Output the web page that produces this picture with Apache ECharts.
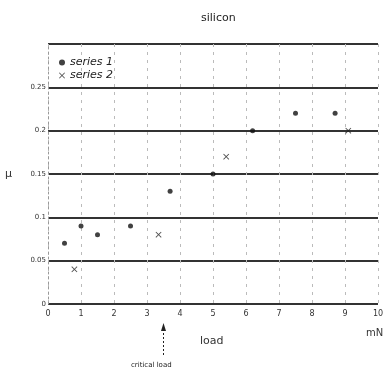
<!DOCTYPE html>
<html>
<head>
<meta charset="utf-8">
<script src="https://cdn.jsdelivr.net/npm/echarts@6/dist/echarts.min.js"></script>
<style>
  html, body { margin: 0; padding: 0; background: #fff; }
  #chart { width: 387px; height: 377px; }
</style>
</head>
<body>
<div id="chart"></div>
<script>
// load (mN) and friction coefficient
var series1Load = [0.5, 1.0, 1.5, 2.5, 3.7, 5.0, 6.2, 7.5, 8.7];
var series1Mu   = [0.07, 0.09, 0.08, 0.09, 0.13, 0.15, 0.20, 0.22, 0.22];
var series2Load = [0.8, 3.35, 5.4, 9.1];
var series2Mu   = [0.04, 0.08, 0.17, 0.20];
var yTicks = [0, 0.05, 0.1, 0.15, 0.2, 0.25];
var criticalLoad = 3.5;

function pairs(xs, ys) {
    var out = [];
    for (var i = 0; i < xs.length; i++) {
        out.push([xs[i], ys[i]]);
    }
    return out;
}

var crossPath = 'path://M0,1L1,0L5,4L9,0L10,1L6,5L10,9L9,10L5,6L1,10L0,9L4,5Z';
var font = 'DejaVu Sans';

var myChart = echarts.init(document.getElementById('chart'), null, { renderer: 'canvas' });

var textGraphics = [
    { type: 'text', left: 366, top: 328, style: { text: 'mN', fontFamily: font, fontSize: 10, fill: '#333' } },
    { type: 'text', left: 200, top: 336, style: { text: 'load', fontFamily: font, fontSize: 11, fill: '#333' } },
    { type: 'text', left: 131, top: 362, style: { text: 'critical load', fontFamily: font, fontSize: 7, fill: '#222' } }
];

var option = {
    backgroundColor: '#fff',
    animation: false,
    title: {
        text: 'silicon',
        left: 196,
        top: 8,
        textStyle: { fontFamily: font, fontSize: 11, fontWeight: 'normal', color: '#222' }
    },
    legend: {
        orient: 'vertical',
        left: 54,
        top: 52,
        itemGap: 2,
        itemWidth: 6,
        itemHeight: 6,
        textStyle: { fontFamily: font, fontSize: 11, color: '#222', fontStyle: 'italic' },
        data: [
            { name: 'series 1', icon: 'circle' },
            { name: 'series 2', icon: crossPath }
        ]
    },
    grid: { left: 48, right: 9, top: 44, bottom: 73 },
    xAxis: {
        type: 'value',
        min: 0,
        max: 10,
        interval: 1,
        axisLine: { show: false },
        axisTick: { show: false },
        axisLabel: { fontFamily: font, fontSize: 8, color: '#333', margin: 6 },
        splitLine: { show: true, lineStyle: { color: '#bbb', type: [3, 5], width: 1 } }
    },
    yAxis: {
        type: 'value',
        min: 0,
        max: 0.3,
        interval: 0.05,
        name: 'µ',
        nameLocation: 'middle',
        nameRotate: 0,
        nameGap: 36,
        nameTextStyle: { fontFamily: font, fontSize: 11, color: '#333' },
        axisLine: { show: true, lineStyle: { color: '#999', type: [2, 3], width: 1 } },
        axisTick: { show: false },
        axisLabel: {
            fontFamily: font, fontSize: 7, color: '#333', margin: 2,
            formatter: function (v) {
                for (var i = 0; i < yTicks.length; i++) {
                    if (Math.abs(yTicks[i] - v) < 1e-9) return String(yTicks[i]);
                }
                return '';
            }
        },
        splitLine: { show: true, lineStyle: { color: '#333', width: 2 } }
    },
    graphic: textGraphics,
    series: [
        {
            name: 'series 1',
            type: 'scatter',
            symbol: 'circle',
            symbolSize: 5,
            itemStyle: { color: '#111' },
            data: pairs(series1Load, series1Mu)
        },
        {
            name: 'series 2',
            type: 'scatter',
            symbol: crossPath,
            symbolSize: 6,
            itemStyle: { color: '#222' },
            data: pairs(series2Load, series2Mu)
        }
    ]
};

myChart.setOption(option);

// arrow under the axis pointing at the critical load
var px = myChart.convertToPixel({ gridIndex: 0 }, [criticalLoad, 0]);
myChart.setOption({
    graphic: textGraphics.concat([
        { type: 'line', shape: { x1: px[0], y1: px[1] + 25, x2: px[0], y2: px[1] + 52 },
          style: { stroke: '#222', lineWidth: 1, lineDash: [2, 2] } },
        { type: 'polygon', shape: { points: [[px[0], px[1] + 19], [px[0] - 2.5, px[1] + 27], [px[0] + 2.5, px[1] + 27]] },
          style: { fill: '#222' } }
    ])
});
</script>
</body>
</html>
